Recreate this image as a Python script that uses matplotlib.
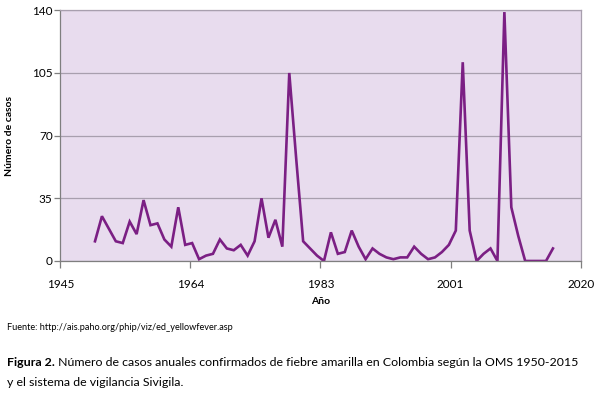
import matplotlib.pyplot as plt
from matplotlib.transforms import offset_copy

years = list(range(1950, 2017))
cases = [11, 25, 18, 11, 10, 22, 15, 34, 20, 21,
         12, 8, 30, 9, 10, 1, 3, 4, 12, 7,
         6, 9, 3, 11, 35, 13, 23, 8, 105, 57,
         11, 7, 3, 0, 16, 4, 5, 17, 8, 1,
         7, 4, 2, 1, 2, 2, 8, 4, 1, 2,
         5, 9, 17, 111, 17, 0, 4, 7, 0, 139,
         30, 14, 0, 0, 0, 0, 7]

x_ticks = [1945, 1963.75, 1982.5, 2001.25, 2020]
x_labels = ["1945", "1964", "1983", "2001", "2020"]
y_ticks = [0, 35, 70, 105, 140]

plt.rcParams['font.family'] = ['Lato', 'DejaVu Sans']

fig = plt.figure(figsize=(5.97, 3.94), dpi=100)
ax = fig.add_axes([0.101, 0.3376, 0.8717, 0.6363])
ax.set_facecolor("#e8dcee")

ax.plot(years, cases, color="#7b1f84", linewidth=1.9, solid_joinstyle="miter")

ax.set_xlim(1945, 2020)
ax.set_ylim(0, 140)
ax.set_xticks(x_ticks)
ax.set_xticklabels(x_labels)
ax.set_yticks(y_ticks)
ax.yaxis.grid(True, color="#a89fae", linewidth=0.9)
ax.set_axisbelow(True)

for s in ["top", "right"]:
    ax.spines[s].set_color("#a89fae")
    ax.spines[s].set_linewidth(0.9)
for s in ["left", "bottom"]:
    ax.spines[s].set_color("#7f7f7f")
    ax.spines[s].set_linewidth(0.9)

ax.tick_params(axis="y", length=4, width=0.9, color="#7f7f7f", pad=1.5, labelsize=8.5)
ax.tick_params(axis="x", length=5, width=0.9, color="#7f7f7f", pad=8, labelsize=8.5)

ax.set_xlabel("Año", fontsize=7.5, fontweight="bold", labelpad=5)
ax.set_ylabel("Número de casos", fontsize=7.5, fontweight="bold", labelpad=13)

fig.text(0.012, 1 - 327 / 394, "Fuente: http://ais.paho.org/phip/viz/ed_yellowfever.asp",
         fontsize=6.6, va="center", ha="left")

# caption: bold prefix followed by regular text
bold = fig.text(0.012, 1 - 362 / 394, "Figura 2.", fontsize=8.9, fontweight="bold",
                va="center", ha="left")
renderer = fig.canvas.get_renderer()
w = bold.get_window_extent(renderer=renderer).width
fig.text(0.012, 1 - 362 / 394,
         " Número de casos anuales confirmados de fiebre amarilla en Colombia según la OMS 1950-2015",
         fontsize=8.9, va="center", ha="left",
         transform=offset_copy(fig.transFigure, fig=fig, x=w, y=0, units="dots"))
fig.text(0.012, 1 - 382 / 394, "y el sistema de vigilancia Sivigila.",
         fontsize=8.9, va="center", ha="left")

fig.savefig("out.png", dpi=100)
